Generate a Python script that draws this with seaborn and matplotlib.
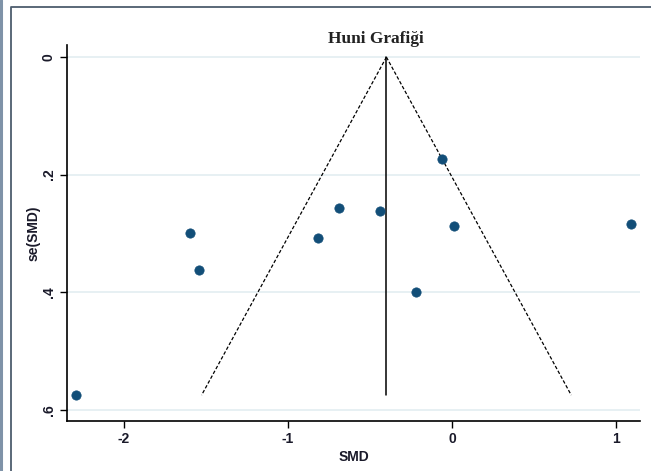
import matplotlib
matplotlib.use("Agg")
import matplotlib.pyplot as plt
import matplotlib.lines as mlines
import seaborn as sns
import pandas as pd
import numpy as np

# Study effect sizes (SMD) and standard errors
smd = [-2.29, -1.60, -1.54, -0.82, -0.69, -0.44, -0.06, 0.01, -0.22, 1.09]
se_smd = [0.575, 0.299, 0.362, 0.308, 0.257, 0.262, 0.173, 0.287, 0.400, 0.284]

# Pooled estimate (vertical line) and 95% pseudo confidence limits
pooled = -0.40
se_max = 0.575
z = 1.96

x_ticks = [-2, -1, 0, 1]
y_ticks = [0, 0.2, 0.4, 0.6]
y_tick_labels = ["0", ".2", ".4", ".6"]

df = pd.DataFrame({"SMD": smd, "se(SMD)": se_smd})

sns.set_style("white")
plt.rcParams["font.family"] = ["Liberation Sans", "DejaVu Sans"]

fig = plt.figure(figsize=(6.51, 4.71), dpi=100)
ax = fig.add_axes([0.1029, 0.1062, 0.8801, 0.798])

# Light horizontal grid lines (Stata s2color style)
for yv in y_ticks:
    ax.axhline(yv, color="#e3eef1", linewidth=1.2, zorder=0)

# Funnel: pseudo 95% limits and pooled estimate
se_line = np.array([0, se_max])
ax.plot(pooled - z * se_line, se_line, color="black", linewidth=0.9,
        linestyle=(0, (2.8, 1.6)), zorder=2)
ax.plot(pooled + z * se_line, se_line, color="black", linewidth=0.9,
        linestyle=(0, (2.8, 1.6)), zorder=2)
ax.plot([pooled, pooled], [0, se_max], color="black", linewidth=1.1, zorder=2)

sns.scatterplot(data=df, x="SMD", y="se(SMD)", ax=ax, color="#124e78",
                s=45, edgecolor="#124e78", linewidth=0.5, zorder=3, legend=False)

ax.set_xlim(-2.348, 1.146)
ax.set_ylim(0.619, -0.0204)

ax.set_xticks(x_ticks)
ax.set_xticklabels([str(t) for t in x_ticks])
ax.set_yticks(y_ticks)
ax.set_yticklabels(y_tick_labels, rotation=90, va="center")

ax.tick_params(axis="both", direction="out", length=5, width=1, colors="black",
               labelsize=10, labelcolor="#1a1a2a", left=True, bottom=True)
for lab in ax.get_xticklabels() + ax.get_yticklabels():
    lab.set_fontweight("bold")
ax.tick_params(axis="y", pad=3)
ax.tick_params(axis="x", pad=3)

for side in ["top", "right"]:
    ax.spines[side].set_visible(False)
for side in ["left", "bottom"]:
    ax.spines[side].set_color("black")
    ax.spines[side].set_linewidth(1.2)

ax.set_xlabel("SMD", fontsize=10, fontweight="bold", color="#1a1a2a", labelpad=3)
ax.set_ylabel("se(SMD)", fontsize=10, fontweight="bold", color="#1a1a2a", labelpad=1)

ax.text(0.539, 1.006, "Huni Grafiği", transform=ax.transAxes, ha="center",
        va="baseline", fontsize=12.5, fontweight="bold",
        family=["Liberation Serif", "DejaVu Serif"], color="#222222")

# Outer frame of the original figure
fig.add_artist(mlines.Line2D([1.2 / 651, 1.2 / 651], [0, 1], color="#7f93a8",
                             linewidth=2.2, transform=fig.transFigure))
fig.add_artist(mlines.Line2D([11 / 651, 11 / 651, 1], [0, 1 - 7 / 471, 1 - 7 / 471],
                             color="#4d5d6d", linewidth=1.3, transform=fig.transFigure))

fig.savefig("out.png", dpi=100)
